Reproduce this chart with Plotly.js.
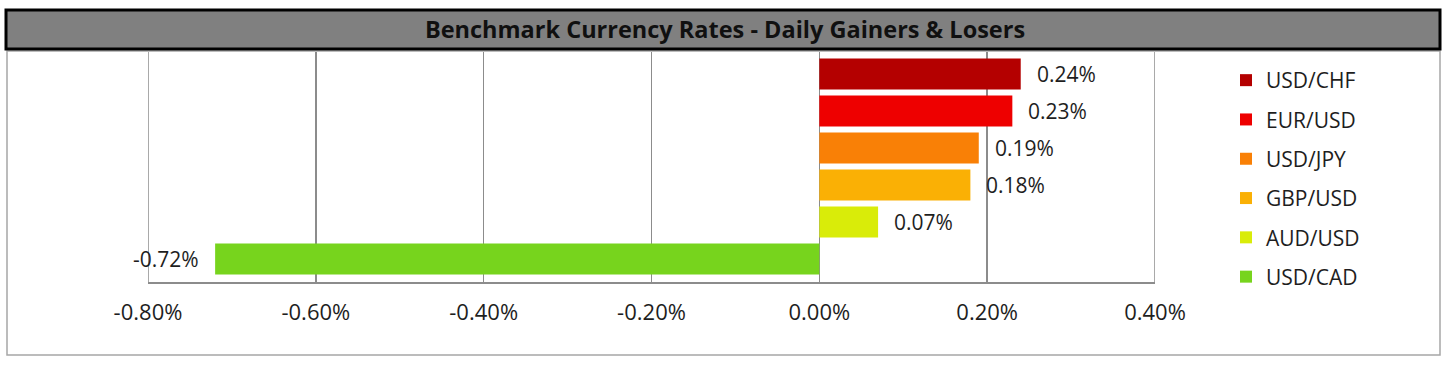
<!DOCTYPE html>
<html>
<head>
<meta charset="utf-8">
<script src="https://cdn.plot.ly/plotly-3.0.1.min.js"></script>
<style>
  html, body { margin: 0; padding: 0; background: #ffffff; }
  #chart { width: 1447px; height: 367px; }
</style>
</head>
<body>
<div id="chart"></div>
<script>
// ---- data ----
const pairs  = ["USD/CHF", "EUR/USD", "USD/JPY", "GBP/USD", "AUD/USD", "USD/CAD"];
const changes = [0.24, 0.23, 0.19, 0.18, 0.07, -0.72];   // percent
const labels  = ["0.24%", "0.23%", "0.19%", "0.18%", "0.07%", "-0.72%"];
const colors  = ["#B40000", "#EE0000", "#F98006", "#FAB005", "#D9EC09", "#77D41D"];
const tickVals  = [-0.8, -0.6, -0.4, -0.2, 0.0, 0.2, 0.4];
const tickTexts = ["-0.80%", "-0.60%", "-0.40%", "-0.20%", "0.00%", "0.20%", "0.40%"];
const chartTitle = "Benchmark Currency Rates - Daily Gainers & Losers";

// ---- layout geometry (pixels) ----
const W = 1447, H = 367;
const L = 148, R = 1155, T = 52, B = 282;
const px = x => (x - L) / (R - L);
const py = y => (B - y) / (B - T);

const FONT = '"Open Sans", "Noto Sans", sans-serif';
const GRID = '#8C8C8C';

const traces = pairs.map((p, i) => ({
  type: 'bar',
  orientation: 'h',
  name: p,
  legendgroup: p,
  x: [changes[i]],
  y: [p],
  width: 0.84,
  marker: { color: colors[i], line: { width: 0 } },
  hoverinfo: 'x+y'
}));

const annotations = pairs.map((p, i) => ({
  x: changes[i], y: p, xref: 'x', yref: 'y',
  text: labels[i], showarrow: false,
  xanchor: changes[i] >= 0 ? 'left' : 'right',
  xshift: changes[i] >= 0 ? 14 : -14,
  yanchor: 'middle',
  font: { family: FONT, size: 21, color: '#1e1e1e' }
}));

const shapes = [
  // outer chart frame
  { type: 'rect', xref: 'paper', yref: 'paper', layer: 'below',
    x0: px(7), x1: px(1440), y0: py(355), y1: py(51),
    line: { color: '#A6A6A6', width: 1.5 }, fillcolor: 'rgba(0,0,0,0)' },
  // title banner
  { type: 'rect', xref: 'paper', yref: 'paper', layer: 'below',
    x0: px(6), x1: px(1440), y0: py(49), y1: py(10),
    line: { color: '#000000', width: 3 }, fillcolor: '#808080' }
];
// gridlines on the range edges (Plotly omits them)
[tickVals[0], tickVals[tickVals.length - 1]].forEach(v => shapes.push({
  type: 'line', xref: 'x', yref: 'paper', layer: 'below',
  x0: v, x1: v, y0: 0, y1: 1, line: { color: GRID, width: 1.5 }
}));

const layout = {
  width: W, height: H,
  margin: { l: L, r: W - R, t: T, b: H - B, pad: 0 },
  paper_bgcolor: '#ffffff', plot_bgcolor: '#ffffff',
  font: { family: FONT, color: '#1e1e1e' },
  title: {
    text: '<b>' + chartTitle + '</b>',
    xref: 'container', yref: 'container',
    x: 725 / W, y: 1 - 30 / H, xanchor: 'center', yanchor: 'middle',
    font: { family: FONT, size: 23.5, color: '#101010' }
  },
  barmode: 'overlay',
  showlegend: true,
  legend: {
    x: px(1226), xanchor: 'left', y: py(60), yanchor: 'top',
    font: { family: FONT, size: 21, color: '#1e1e1e' },
    tracegroupgap: 9, traceorder: 'grouped',
    bgcolor: 'rgba(0,0,0,0)', borderwidth: 0,
    itemclick: false, itemdoubleclick: false
  },
  xaxis: {
    range: [tickVals[0], tickVals[tickVals.length - 1]],
    tickmode: 'array', tickvals: tickVals, ticktext: tickTexts,
    showgrid: true, gridcolor: GRID, gridwidth: 1.5,
    zeroline: false,
    showline: true, linecolor: GRID, linewidth: 1.5,
    ticks: '', ticklabelstandoff: 10,
    tickfont: { family: FONT, size: 22, color: '#1e1e1e' },
    fixedrange: true
  },
  yaxis: {
    type: 'category',
    categoryorder: 'array', categoryarray: pairs,
    range: [5.625, -0.598],
    showticklabels: false, showgrid: false, zeroline: false, showline: false,
    ticks: '', fixedrange: true
  },
  shapes: shapes,
  annotations: annotations
};

Plotly.newPlot('chart', traces, layout, { displayModeBar: false, staticPlot: true });
</script>
</body>
</html>
